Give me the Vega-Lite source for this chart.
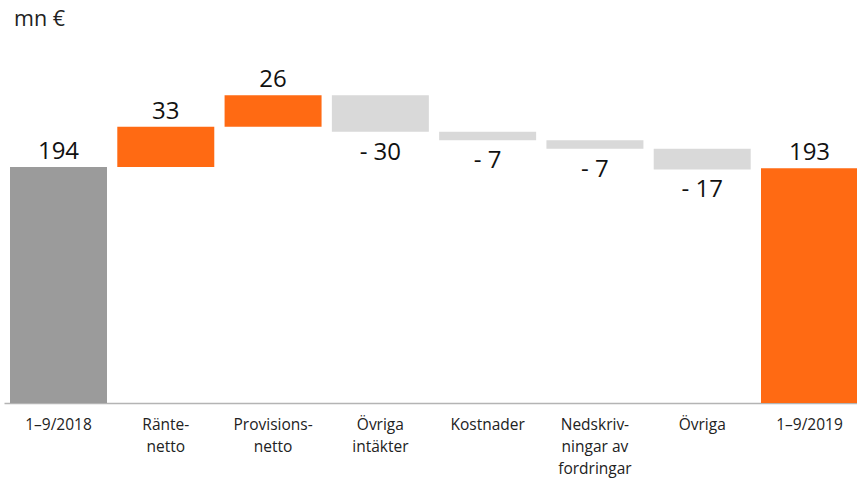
{
  "$schema": "https://vega.github.io/schema/vega-lite/v6.json",
  "autosize": "none",
  "width": 860,
  "height": 365,
  "padding": {"left": 4, "top": 38, "right": 0, "bottom": 75},
  "background": "white",
  "title": {"text": "mn €", "anchor": "start", "frame": "group", "baseline": "alphabetic", "offset": -9, "dx": 10, "fontSize": 21.5, "fontWeight": "normal", "font": "Open Sans", "color": "#222222"},
  "data": {"values": [
    {"cat": "1–9/2018", "start": 0, "end": 194, "label": "194", "kind": "base"},
    {"cat": "Ränte-|netto", "start": 194, "end": 227, "label": "33", "kind": "up"},
    {"cat": "Provisions-|netto", "start": 227, "end": 253, "label": "26", "kind": "up"},
    {"cat": "Övriga|intäkter", "start": 253, "end": 223, "label": "- 30", "kind": "down"},
    {"cat": "Kostnader", "start": 223, "end": 216, "label": "- 7", "kind": "down"},
    {"cat": "Nedskriv-|ningar av|fordringar", "start": 216, "end": 209, "label": "- 7", "kind": "down"},
    {"cat": "Övriga", "start": 209, "end": 192, "label": "- 17", "kind": "down"},
    {"cat": "1–9/2019", "start": 0, "end": 193, "label": "193", "kind": "total"}
  ]},
  "encoding": {
    "x": {"field": "cat", "type": "nominal", "sort": null,
      "scale": {"paddingInner": 0.096, "paddingOuter": 0.056},
      "axis": {"title": null, "labelAngle": 0, "ticks": false, "domainColor": "#b4b4b4", "domainWidth": 1.5,
        "labelExpr": "split(datum.label, '|')", "labelFont": "Open Sans", "labelFontSize": 15.5, "labelColor": "#222222",
        "labelLineHeight": 22, "labelPadding": 14, "labelBaseline": "top"}},
    "y": {"field": "end", "type": "quantitative", "scale": {"domain": [0, 300]}, "axis": null}
  },
  "layer": [
    {"mark": {"type": "bar"},
     "encoding": {
       "y": {"field": "start", "type": "quantitative"},
       "y2": {"field": "end"},
       "color": {"field": "kind", "type": "nominal", "legend": null,
         "scale": {"domain": ["base", "up", "down", "total"], "range": ["#9b9b9b", "#ff6a13", "#d9d9d9", "#ff6a13"]}}
     }},
    {"transform": [{"filter": "datum.kind != 'down'"}],
     "mark": {"type": "text", "font": "Open Sans", "fontSize": 24, "color": "#111111", "baseline": "alphabetic", "dy": -8},
     "encoding": {"text": {"field": "label"}}},
    {"transform": [{"filter": "datum.kind == 'down'"}],
     "mark": {"type": "text", "font": "Open Sans", "fontSize": 24, "color": "#111111", "baseline": "alphabetic", "dy": 28},
     "encoding": {"text": {"field": "label"}}}
  ],
  "config": {"view": {"stroke": null}}
}
